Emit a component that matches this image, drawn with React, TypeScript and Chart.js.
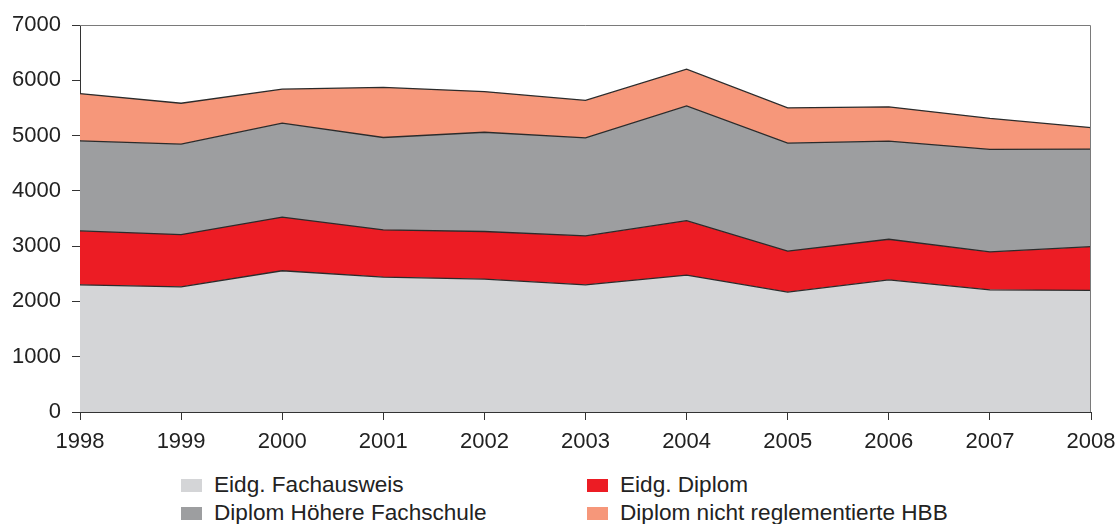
import React, { useEffect, useRef } from "react";
import { Chart, registerables } from "chart.js";

Chart.register(...registerables);

const years = ["1998", "1999", "2000", "2001", "2002", "2003", "2004", "2005", "2006", "2007", "2008"];
const fachausweis = [2300, 2265, 2555, 2440, 2405, 2300, 2475, 2170, 2390, 2210, 2200];
const eidgDiplom = [975, 945, 970, 855, 860, 885, 985, 740, 735, 685, 790];
const hoehereFachschule = [1630, 1635, 1700, 1670, 1795, 1775, 2075, 1955, 1775, 1855, 1765];
const nichtReglementiert = [855, 740, 615, 905, 735, 675, 665, 635, 620, 560, 390];

const seriesNames = ["Eidg. Fachausweis", "Eidg. Diplom", "Diplom Höhere Fachschule", "Diplom nicht reglementierte HBB"];
const seriesColors = ["#d4d5d7", "#ec1c24", "#9d9ea0", "#f6977a"];

const FONT = "'Liberation Sans', Arial, Helvetica, sans-serif";

const frameBorder = {
  id: "frameBorder",
  afterDatasetsDraw(chart: any) {
    const { ctx, chartArea } = chart;
    ctx.save();
    ctx.strokeStyle = "#7a7a7a";
    ctx.lineWidth = 1;
    ctx.beginPath();
    ctx.moveTo(chartArea.left, chartArea.top + 0.5);
    ctx.lineTo(chartArea.right - 0.5, chartArea.top + 0.5);
    ctx.lineTo(chartArea.right - 0.5, chartArea.bottom);
    ctx.stroke();
    ctx.restore();
  },
};

export default function App() {
  const canvasRef = useRef<HTMLCanvasElement | null>(null);

  useEffect(() => {
    document.body.style.margin = "0";
    const canvas = canvasRef.current;
    if (!canvas) return;
    const dataArrays = [fachausweis, eidgDiplom, hoehereFachschule, nichtReglementiert];
    const chart = new Chart(canvas, {
      type: "line",
      data: {
        labels: years,
        datasets: dataArrays.map((d, i) => ({
          label: seriesNames[i],
          data: d,
          backgroundColor: seriesColors[i],
          borderColor: "#2b2b2b",
          borderWidth: 1.3,
          pointRadius: 0,
          tension: 0,
          fill: i === 0 ? "origin" : "-1",
        })),
      },
      options: {
        animation: false,
        responsive: false,
        layout: { padding: { top: 25, right: 27, left: 0, bottom: 0 } },
        plugins: {
          legend: { display: false },
          tooltip: { enabled: false },
        },
        scales: {
          x: {
            offset: false,
            grid: { drawOnChartArea: false, drawTicks: true, tickLength: 8, color: "#333" },
            border: { display: true, color: "#333", width: 1 },
            ticks: { color: "#222", font: { family: FONT, size: 22 }, padding: 9, maxRotation: 0, autoSkip: false },
            afterFit: (s: any) => {
              s.height = 48;
              s.paddingLeft = 0;
              s.paddingRight = 0;
            },
          },
          y: {
            stacked: true,
            min: 0,
            max: 7000,
            grid: { drawOnChartArea: false, drawTicks: true, tickLength: 8, color: "#333" },
            border: { display: true, color: "#333", width: 1 },
            ticks: {
              stepSize: 1000,
              color: "#222",
              font: { family: FONT, size: 22 },
              padding: 11,
              callback: (v: any) => String(v),
            },
            afterFit: (s: any) => {
              s.width = 80;
              s.paddingTop = 0;
              s.paddingBottom = 0;
            },
          },
        },
      },
      plugins: [frameBorder],
    });
    return () => chart.destroy();
  }, []);

  const legendItems = [
    { i: 0, left: 181, top: 474 },
    { i: 1, left: 587, top: 474 },
    { i: 2, left: 181, top: 502 },
    { i: 3, left: 587, top: 502 },
  ];

  return (
    <div style={{ position: "relative", width: 1118, height: 524, overflow: "hidden", background: "#fff" }}>
      <canvas ref={canvasRef} width={1118} height={460} style={{ display: "block" }} />
      {legendItems.map((it) => (
        <div
          key={it.i}
          style={{
            position: "absolute",
            left: it.left,
            top: it.top,
            height: 22,
            display: "flex",
            alignItems: "center",
            fontFamily: FONT,
            fontSize: 22.6,
            lineHeight: "22px",
            color: "#222",
            whiteSpace: "nowrap",
          }}
        >
          <span style={{ display: "inline-block", width: 21, height: 13, background: seriesColors[it.i], marginRight: 12 }} />
          <span>{seriesNames[it.i]}</span>
        </div>
      ))}
    </div>
  );
}
